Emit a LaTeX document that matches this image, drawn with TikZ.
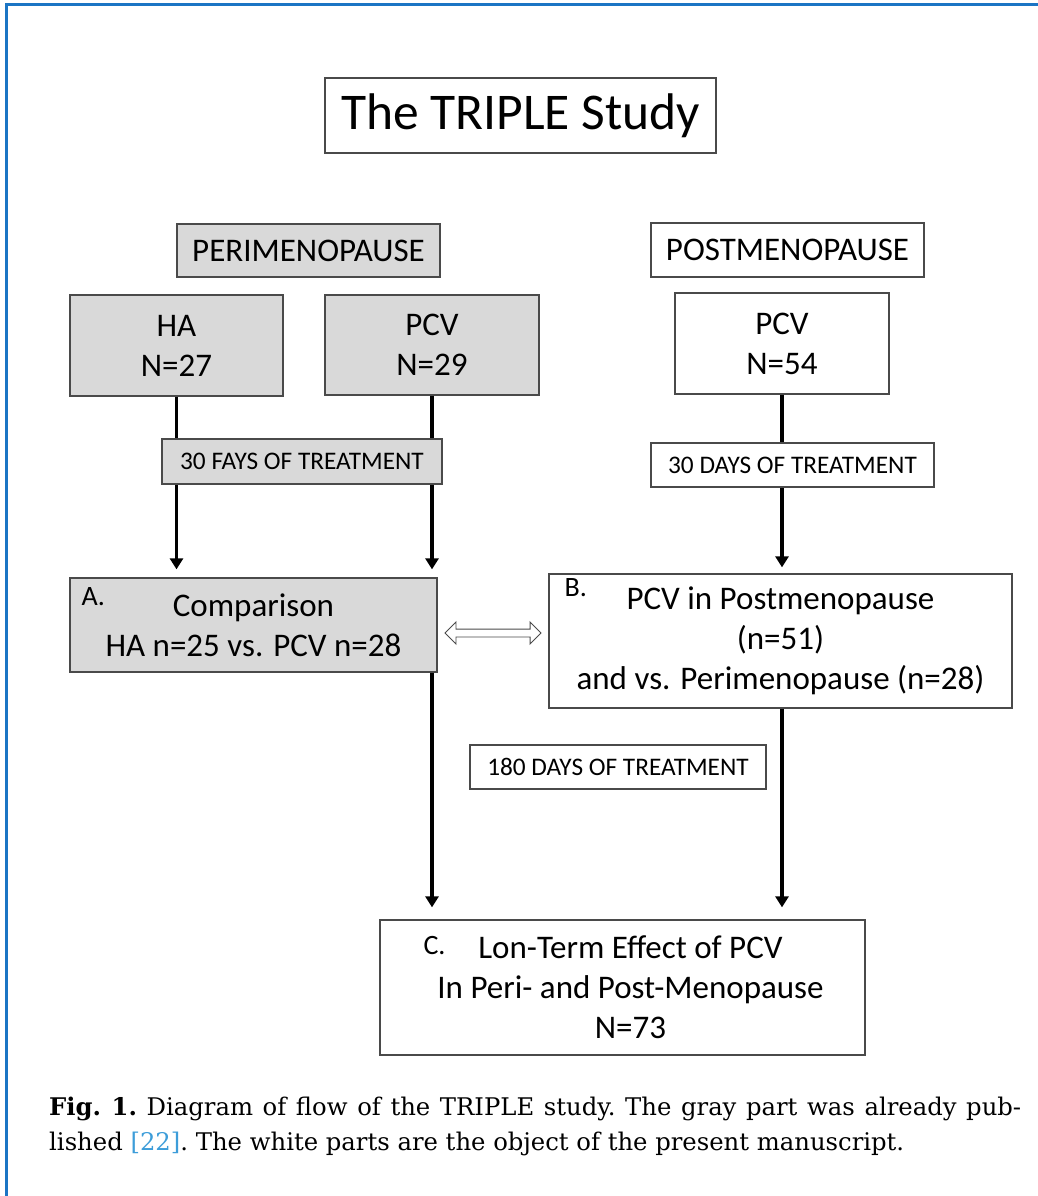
\documentclass[tikz,border=0pt]{standalone}
\usepackage{xcolor}
\usepackage{fontspec}
\setmainfont{Carlito}
\newfontfamily\capfont{DejaVu Serif}
\usepackage{tikz}
\usetikzlibrary{arrows.meta, shapes.arrows, calc}
\definecolor{frameblue}{HTML}{1B75C4}
\definecolor{panelgray}{HTML}{D9D9D9}
\definecolor{boxline}{HTML}{4A4A4A}
\definecolor{refblue}{HTML}{3D9DD9}

\tikzset{
  studybox/.style={draw=boxline, line width=1.3pt, inner sep=0pt, align=center,
                   font=\fontsize{33}{40}\selectfont},
  graybox/.style={studybox, fill=panelgray},
  whitebox/.style={studybox, fill=white},
  daysbox/.style={draw=boxline, line width=1.3pt, inner sep=0pt,
                  font=\fontsize{25.3}{30}\selectfont},
  lettertag/.style={anchor=base west, inner sep=0pt, font=\fontsize{28}{32}\selectfont},
  flowline/.style={line width=3.2pt, -{Triangle[width=13pt,length=11pt]}},
}

\begin{document}
\begin{tikzpicture}[x=1pt, y=-1pt]
  \useasboundingbox (0,0) rectangle (1038,1196);
  \draw[frameblue, line width=3pt] (6,1196) -- (6,5) -- (1038,5);

  % title and the two groups
  \node[whitebox, minimum width=391pt, minimum height=75pt,
        font=\fontsize{51.5}{60}\selectfont] (title) at (520.5,115.5) {The TRIPLE Study};
  \node[graybox, minimum width=263pt, minimum height=53pt] (peri) at (308.5,250.5) {PERIMENOPAUSE};
  \node[whitebox, minimum width=273pt, minimum height=54pt] (post) at (787.5,250) {POSTMENOPAUSE};

  \node[graybox, minimum width=213pt, minimum height=101pt] (haPeri) at (176.5,345.5) {HA\\N=27};
  \node[graybox, minimum width=214pt, minimum height=100pt] (pcvPeri) at (432,345) {PCV\\N=29};
  \node[whitebox, minimum width=214pt, minimum height=101pt] (pcvPost) at (782,343.5) {PCV\\N=54};

  % results
  \node[graybox, minimum width=367pt, minimum height=94pt] (compA) at (253.5,625)
        {Comparison\\HA n=25 vs. PCV n=28};
  \node[whitebox, minimum width=463pt, minimum height=134pt] (postB) at (780.5,641)
        {PCV in Postmenopause\\(n=51)\\and vs. Perimenopause (n=28)};
  \node[whitebox, minimum width=485pt, minimum height=135pt] (longC) at (622.5,987.5)
        {\hspace*{16pt}Lon-Term Effect of PCV\\\hspace*{16pt}In Peri- and Post-Menopause\\\hspace*{16pt}N=73};

  \node[lettertag] (tagA) at ([shift={(12,28)}]compA.north west) {A.};
  \node[lettertag] (tagB) at ([shift={(16,23)}]postB.north west) {B.};
  \node[lettertag] (tagC) at ([shift={(44,35)}]longC.north west) {C.};

  % arrows
  \draw[flowline, shorten >=8pt] (haPeri.south) -- (haPeri.south |- compA.north);
  \draw[flowline, shorten >=8pt] (pcvPeri.south) -- (pcvPeri.south |- compA.north);
  \draw[flowline, shorten >=6pt] (pcvPost.south) -- (pcvPost.south |- postB.north);
  \draw[flowline, shorten >=12pt] (pcvPeri.south |- compA.south) -- (pcvPeri.south |- longC.north);
  \draw[flowline, shorten >=12pt] (pcvPost.south |- postB.south) -- (pcvPost.south |- longC.north);

  \node[shape=double arrow, draw=boxline, fill=white, line width=0.9pt,
        minimum height=96pt, inner xsep=0pt, inner ysep=3.5pt,
        double arrow head extend=7pt] (link) at ($(compA.east)!0.5!(postB.west)$) {};

  % treatment periods, drawn over the arrows
  \node[daysbox, fill=panelgray, minimum width=280pt, minimum height=45pt] (days30peri) at (302,461.5)
        {30 FAYS OF TREATMENT};
  \node[daysbox, fill=white, minimum width=283pt, minimum height=44pt] (days30post) at (792.5,465)
        {30 DAYS OF TREATMENT};
  \node[daysbox, fill=white, minimum width=296pt, minimum height=44pt] (days180) at (618,767)
        {180 DAYS OF TREATMENT};

  \node[anchor=north west, text width=972pt, align=justify, inner sep=0pt,
        font=\capfont\fontsize{24.3}{35}\selectfont] (caption) at (49,1097)
        {\frenchspacing\textbf{Fig. 1.} Diagram of flow of the TRIPLE study. The gray part was already pub-\linebreak
         lished {\color{refblue}[22]}. The white parts are the object of the present manuscript.};
\end{tikzpicture}
\end{document}
